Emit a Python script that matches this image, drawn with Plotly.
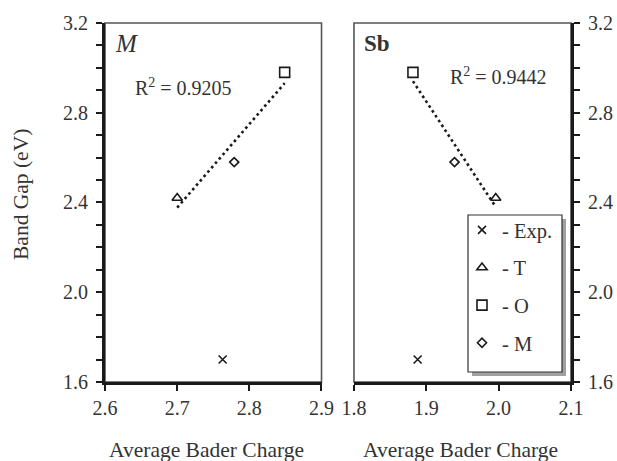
import numpy as np
import plotly.graph_objects as go

# Band gap (eV) versus average Bader charge for the M and Sb sites
structures = ["Exp.", "T", "O", "M"]
band_gap = [1.70, 2.42, 2.98, 2.58]
m_charge = [2.763, 2.700, 2.849, 2.779]
sb_charge = [1.888, 1.996, 1.8815, 1.939]
r2_values = ["0.9205", "0.9442"]
panel_labels = ["M", "Sb"]

symbols = {
    "Exp.": "x-thin-open",
    "T": "triangle-up-open",
    "O": "square-open",
    "M": "diamond-open",
}
sizes = {"Exp.": 8, "T": 9, "O": 10, "M": 7}

FONT = "Liberation Serif, Times New Roman, serif"
INK = "#1a1a1a"
TXT = "#333"

fig = go.Figure()

panels = [(m_charge, "x", "y", False), (sb_charge, "x2", "y2", True)]
for charges, xa, ya, show in panels:
    # linear fit through the computed structures (T, O, M)
    fx = np.array(charges[1:])
    fy = np.array(band_gap[1:])
    slope, icpt = np.polyfit(fx, fy, 1)
    lx = np.array([fx.min(), fx.max()])
    fig.add_trace(go.Scatter(
        x=lx, y=slope * lx + icpt, mode="lines", xaxis=xa, yaxis=ya,
        line=dict(color=INK, width=2.6, dash="2.6px,3.2px"),
        showlegend=False, hoverinfo="skip"))
    for name, cx, gy in zip(structures, charges, band_gap):
        fig.add_trace(go.Scatter(
            x=[cx], y=[gy], mode="markers", xaxis=xa, yaxis=ya,
            name="- " + name, legendgroup=name, showlegend=show,
            marker=dict(symbol=symbols[name], size=sizes[name],
                        color=INK, line=dict(color=INK, width=1.6))))

tick_common = dict(
    ticks="outside", ticklen=6, tickwidth=1.5, tickcolor=INK,
    showline=True, linewidth=3, linecolor=INK, showgrid=False,
    zeroline=False, tickformat=".1f", automargin=False,
    tickfont=dict(family=FONT, size=20, color=TXT),
)
y_common = dict(
    tick_common, range=[1.5999, 3.2001], dtick=0.4, tick0=1.6,
    domain=[0.1714, 0.9501], ticklabelstandoff=4,
    minor=dict(dtick=0.1, tick0=1.6, ticks="outside", ticklen=6,
               tickwidth=1.5, tickcolor=INK, showgrid=False),
)

fig.update_layout(
    width=617, height=461,
    margin=dict(l=0, r=0, t=0, b=0),
    paper_bgcolor="white", plot_bgcolor="white",
    font=dict(family=FONT, color=TXT),
    xaxis=dict(tick_common, domain=[0.1702, 0.5211], range=[2.5999, 2.9001],
               dtick=0.1, tick0=2.6, anchor="y"),
    yaxis=dict(y_common, anchor="x"),
    xaxis2=dict(tick_common, domain=[0.5737, 0.9254], range=[1.7999, 2.1001],
                dtick=0.1, tick0=1.8, anchor="y2"),
    yaxis2=dict(y_common, anchor="x2", side="right"),
    showlegend=True,
    legend=dict(x=462 / 617, xanchor="left", y=(461 - 210) / 461, yanchor="top",
                bgcolor="rgba(0,0,0,0)", borderwidth=0,
                traceorder="grouped", tracegroupgap=8,
                font=dict(family=FONT, size=20.5, color=TXT)),
)

# light frame on the free sides of each panel
for xr, yr in (("x domain", "y domain"), ("x2 domain", "y2 domain")):
    fig.add_shape(type="rect", xref=xr, yref=yr, x0=0, x1=1, y0=0, y1=1,
                  line=dict(color="#555", width=1.6), layer="below")

# legend box with drop shadow
bx0, bx1 = 468 / 617, 562 / 617
by0, by1 = (461 - 372) / 461, (461 - 215) / 461
dx, dy = 4 / 617, 4 / 461
fig.add_shape(type="rect", xref="paper", yref="paper",
              x0=bx0 + dx, x1=bx1 + dx, y0=by0 - dy, y1=by1 - dy,
              fillcolor="#a0a0a0", line=dict(width=0), layer="above")
fig.add_shape(type="rect", xref="paper", yref="paper",
              x0=bx0, x1=bx1, y0=by0, y1=by1,
              fillcolor="white", line=dict(color="#333", width=1.2), layer="above")

# panel labels and fit quality
fig.add_annotation(xref="x domain", yref="y domain", x=0.097, y=0.943,
                   xanchor="center", yanchor="middle",
                   text="<i>" + panel_labels[0] + "</i>", showarrow=False,
                   font=dict(family=FONT, size=25, color=TXT))
fig.add_annotation(xref="x2 domain", yref="y2 domain", x=0.106, y=0.943,
                   xanchor="center", yanchor="middle",
                   text="<b>" + panel_labels[1] + "</b>", showarrow=False,
                   font=dict(family=FONT, size=23, color=TXT))
fig.add_annotation(xref="x domain", yref="y domain", x=0.364, y=0.822,
                   xanchor="center", yanchor="middle",
                   text="R<sup>2</sup> = " + r2_values[0], showarrow=False,
                   font=dict(family=FONT, size=20, color=TXT))
fig.add_annotation(xref="x2 domain", yref="y2 domain", x=0.668, y=0.852,
                   xanchor="center", yanchor="middle",
                   text="R<sup>2</sup> = " + r2_values[1], showarrow=False,
                   font=dict(family=FONT, size=20, color=TXT))

# axis titles
for xc in (206.5 / 617, 460 / 617):
    fig.add_annotation(xref="paper", yref="paper", x=xc, y=(461 - 450) / 461,
                       xanchor="center", yanchor="middle",
                       text="Average Bader Charge", showarrow=False,
                       font=dict(family=FONT, size=21.5, color=TXT))
fig.add_annotation(xref="paper", yref="paper", x=21 / 617, y=(461 - 195) / 461,
                   xanchor="center", yanchor="middle",
                   text="Band Gap (eV)", textangle=-90, showarrow=False,
                   font=dict(family=FONT, size=21.5, color=TXT))

fig.write_html("out.html")
